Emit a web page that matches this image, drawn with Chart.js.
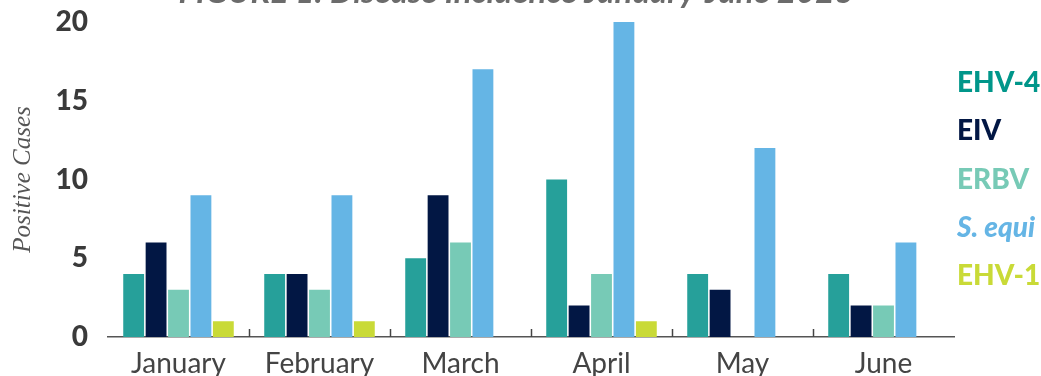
<!DOCTYPE html>
<html>
<head>
<meta charset="utf-8">
<script src="https://cdn.jsdelivr.net/npm/chart.js@4"></script>
<style>
  html, body { margin: 0; padding: 0; background: #fff; }
  #wrap { width: 1041px; height: 376px; position: relative; }
</style>
</head>
<body>
<div id="wrap"><canvas id="chart"></canvas></div>
<script>
// Chart data
const months = ['January', 'February', 'March', 'April', 'May', 'June'];
const seriesNames = ['EHV-4', 'EIV', 'ERBV', 'S. equi', 'EHV-1'];
const ehv4 = [4, 4, 5, 10, 4, 4];
const eiv = [6, 4, 9, 2, 3, 2];
const erbv = [3, 3, 6, 4, 0, 2];
const sEqui = [9, 9, 17, 20, 12, 6];
const ehv1 = [1, 1, 0, 1, 0, 0];
const yTicks = [0, 5, 10, 15, 20];

const seriesValues = [ehv4, eiv, erbv, sEqui, ehv1];
const seriesColors = ['#26a09a', '#021744', '#77cab6', '#65b5e5', '#c9da37'];
const legendColors = ['#00968a', '#021744', '#77cab6', '#65b5e5', '#c9da37'];

const titleText = 'FIGURE 1: Disease Incidence January-June 2023';

// Title sits mostly above the canvas edge, like in the figure
const titlePlugin = {
  id: 'cutTitle',
  afterDraw(chart) {
    const ctx = chart.ctx;
    ctx.save();
    ctx.font = 'italic bold 33px Lato';
    ctx.fillStyle = '#6b6b6b';
    ctx.textAlign = 'center';
    ctx.textBaseline = 'alphabetic';
    ctx.fillText(titleText, 516, 3);
    ctx.restore();
  }
};

// Text-only legend on the right
const sideLegend = {
  id: 'sideLegend',
  afterDraw(chart) {
    const ctx = chart.ctx;
    ctx.save();
    ctx.textAlign = 'left';
    ctx.textBaseline = 'middle';
    chart.data.datasets.forEach((ds, i) => {
      ctx.font = (ds.label === 'S. equi' ? 'italic ' : '') + '900 28px Lato';
      ctx.fillStyle = legendColors[i];
      ctx.fillText(ds.label, 957, 83 + i * 48.3);
    });
    ctx.restore();
  }
};

// Small upward ticks between month groups
const groupTicks = {
  id: 'groupTicks',
  afterDatasetsDraw(chart) {
    const x = chart.scales.x;
    const ctx = chart.ctx;
    const base = chart.chartArea.bottom;
    ctx.save();
    ctx.strokeStyle = '#444';
    ctx.lineWidth = 1.5;
    for (let i = 1; i < months.length; i++) {
      const px = Math.round((x.getPixelForValue(i - 1) + x.getPixelForValue(i)) / 2) + 0.5;
      ctx.beginPath();
      ctx.moveTo(px, base);
      ctx.lineTo(px, base - 8);
      ctx.stroke();
    }
    ctx.restore();
  }
};

const ctx = document.getElementById('chart').getContext('2d');
new Chart(ctx, {
  type: 'bar',
  data: {
    labels: months,
    datasets: seriesNames.map((name, i) => ({
      label: name,
      data: seriesValues[i],
      backgroundColor: seriesColors[i],
      borderWidth: 0,
      categoryPercentage: 0.795,
      barPercentage: 0.93,
    })),
  },
  options: {
    responsive: true,
    maintainAspectRatio: false,
    animation: false,
    layout: {
      padding: { top: 22, right: 87, left: 0, bottom: 0 },
    },
    plugins: {
      legend: { display: false },
      title: { display: false },
      tooltip: { enabled: false },
    },
    scales: {
      x: {
        grid: { display: false, drawTicks: false },
        border: { display: true, color: '#555', width: 1.5 },
        ticks: {
          color: '#444',
          font: { family: 'Lato', size: 28 },
          padding: 10,
        },
        afterFit(scale) {
          scale.height = 39;
          scale.paddingLeft = 0;
          scale.paddingRight = 0;
        },
      },
      y: {
        min: 0,
        max: 20,
        grid: { display: false, drawTicks: false },
        border: { display: false },
        afterBuildTicks(scale) {
          scale.ticks = yTicks.map(v => ({ value: v }));
        },
        ticks: {
          color: '#3a3a3a',
          font: { family: 'Lato', size: 28, weight: '900' },
          padding: 20,
        },
        title: {
          display: true,
          text: 'Positive Cases',
          color: '#555',
          font: { family: 'Liberation Serif', size: 25, style: 'italic' },
          padding: { top: 8, bottom: 0 },
        },
        afterFit(scale) {
          scale.width = 108;
          scale.paddingTop = 0;
          scale.paddingBottom = 0;
        },
      },
    },
  },
  plugins: [titlePlugin, sideLegend, groupTicks],
});
</script>
</body>
</html>
